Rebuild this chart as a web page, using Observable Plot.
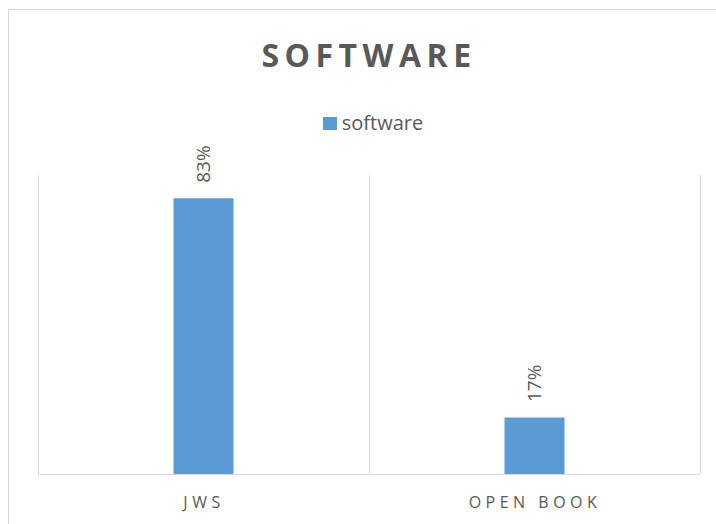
<!DOCTYPE html>
<html>
<head>
<meta charset="utf-8">
<script src="https://cdn.jsdelivr.net/npm/d3@7"></script>
<script src="https://cdn.jsdelivr.net/npm/@observablehq/plot@0.6"></script>
<style>
  html, body { margin: 0; padding: 0; background: #fff; }
  #wrap { position: relative; width: 716px; height: 524px; overflow: hidden; font-family: "Open Sans", "Liberation Sans", sans-serif; color: #595959; }
  #border { position: absolute; left: 8px; top: 9px; width: 800px; height: 600px; border: 1px solid #d9d9d9; box-sizing: border-box; }
  #title { position: relative; height: 51px; padding-top: 39px; line-height: 32px; font-size: 32px; font-weight: 700; letter-spacing: 5.5px; text-align: center; padding-left: 22px; box-sizing: content-box; }
  #legend { position: relative; height: 17px; padding-top: 23px; line-height: 20px; font-size: 20px; text-align: center; padding-left: 30px; white-space: nowrap; }
  #legend .sw { display: inline-block; width: 14px; height: 13px; background: #5b9bd5; margin-right: 5px; vertical-align: 0px; }
  #chart { position: relative; height: 394px; }
  #chart svg { overflow: visible; display: block; }
  #chart svg text { font-family: "Open Sans", "Liberation Sans", sans-serif; }
  #chart [aria-label="x-axis tick label"] text, #chart [aria-label="x-axis"] text { letter-spacing: 4.5px; fill: #595959; }
</style>
</head>
<body>
<div id="wrap">
  <div id="border"></div>
  <div id="title"></div>
  <div id="legend"></div>
  <div id="chart"></div>
</div>
<script>
const chartTitle = "SOFTWARE";
const seriesName = "software";
const categories = ["JWS", "OPEN BOOK"];
const values = [0.83, 0.17];
const yMax = 0.9;

const data = categories.map((c, i) => ({category: c, value: values[i]}));

document.getElementById("title").textContent = chartTitle;
const lg = document.getElementById("legend");
lg.innerHTML = '<span class="sw"></span><span></span>';
lg.lastChild.textContent = seriesName;

const width = 716, height = 394;
const mL = 38, mR = 16;
const step = (width - mL - mR) / categories.length;
const barW = 60;
const inset = (step - barW) / 2;

const plot = Plot.plot({
  width, height,
  marginTop: 45, marginBottom: 50, marginLeft: mL, marginRight: mR,
  style: {fontSize: "16px", color: "#595959", background: "transparent", overflow: "visible"},
  x: {domain: categories, padding: 0, tickSize: 0, tickPadding: 22, label: null},
  y: {domain: [0, yMax], axis: null},
  marks: [
    Plot.ruleX(categories, {x: d => d, dx: -step / 2, y1: 0, y2: yMax, stroke: "#d9d9d9", strokeWidth: 1}),
    Plot.ruleX(categories.slice(-1), {x: d => d, dx: step / 2, y1: 0, y2: yMax, stroke: "#d9d9d9", strokeWidth: 1}),
    Plot.barY(data, {x: "category", y: "value", fill: "#5b9bd5", insetLeft: inset, insetRight: inset}),
    Plot.ruleY([0], {stroke: "#d9d9d9", strokeWidth: 1}),
    Plot.text(data, {x: "category", y: "value", text: d => Math.round(d.value * 100) + "%", rotate: -90, textAnchor: "start", dy: -16, fill: "#595959", fontSize: 19})
  ]
});
document.getElementById("chart").appendChild(plot);
</script>
</body>
</html>
